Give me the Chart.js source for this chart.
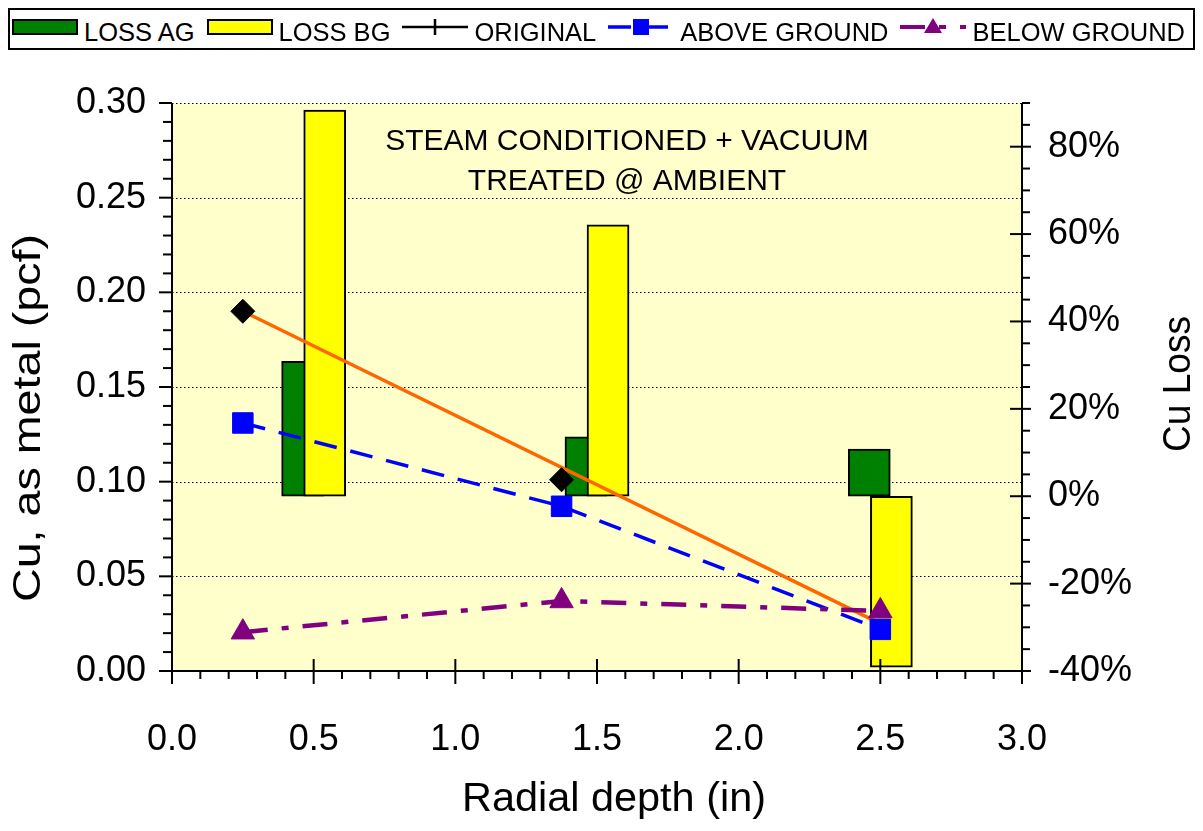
<!DOCTYPE html>
<html>
<head>
<meta charset="utf-8">
<title>Cu retention by radial depth</title>
<script src="https://cdn.jsdelivr.net/npm/chart.js@4.4.0/dist/chart.umd.min.js"></script>
<style>
  body { margin: 0; background: #fff; font-family: "Liberation Sans", Arial, sans-serif; }
  #wrap { position: relative; width: 1203px; height: 831px; }
  #legend {
    position: absolute; left: 8px; top: 8px; width: 1187px; height: 42px;
    box-sizing: border-box; border: 2px solid #000; background: #fff;
    display: flex; align-items: center; justify-content: space-between;
    padding: 0 8px 0 2px;
  }
  .item { display: flex; align-items: center; }
  .item canvas { margin-right: 6px; }
  .item span { font-size: 25.5px; line-height: 1; position: relative; top: 4px; color: #000; }
</style>
</head>
<body>
<div id="wrap">
  <canvas id="cuChart" width="1203" height="831"></canvas>
  <div id="legend"></div>
</div>
<script>
// ===== Data =====
const barDepths = [0.5, 1.5, 2.5];
const lossAg = [30.9, 13.6, 10.8];     // % Cu loss, above ground
const lossBg = [88.4, 62.1, -39.1];    // % Cu loss, below ground

const sampleDepths = [0.25, 1.375, 2.5];
const original = [0.190, 0.101, null];
const aboveGround = [0.131, 0.087, 0.022];
const belowGround = [0.0205, 0.037, 0.0317];

const trendDepths = [0.25, 2.5];
const trendValues = [0.190, 0.025];

const xTicks = [0, 0.5, 1, 1.5, 2, 2.5, 3];
const cuTicks = [0, 0.05, 0.10, 0.15, 0.20, 0.25, 0.30];
const lossTicks = [-40, -20, 0, 20, 40, 60, 80];

const titleLines = ["STEAM CONDITIONED + VACUUM", "TREATED @ AMBIENT"];

// bars of a pair sit either side of the depth
const barShift = 0.039;
const FONT = '"Liberation Sans", Arial, sans-serif';

const points = (xs, ys) => xs.map((x, i) => ({ x: x, y: ys[i] }));
const floating = (xs, ys, dx) => xs.map((x, i) => ({ x: x + dx, y: [0, ys[i]] }));

const datasets = [
  {
    type: "bar", label: "LOSS AG", yAxisID: "yR", order: 6,
    data: floating(barDepths, lossAg, -barShift),
    backgroundColor: "#008000", borderColor: "#000", borderWidth: 2,
    borderSkipped: false, barThickness: 42, grouped: false
  },
  {
    type: "bar", label: "LOSS BG", yAxisID: "yR", order: 5,
    data: floating(barDepths, lossBg, barShift),
    backgroundColor: "#FFFF00", borderColor: "#000", borderWidth: 2,
    borderSkipped: false, barThickness: 42, grouped: false
  },
  {
    type: "line", label: "ORIGINAL", yAxisID: "yL", order: 3,
    data: points(sampleDepths, original),
    showLine: false, borderColor: "#000", borderWidth: 2.5,
    pointStyle: "rectRot", pointRadius: 12, pointBackgroundColor: "#000",
    pointBorderColor: "#000", pointBorderWidth: 1
  },
  {
    type: "line", label: "ABOVE GROUND", yAxisID: "yL", order: 2,
    data: points(sampleDepths, aboveGround),
    borderColor: "#0000FF", borderWidth: 3.5, borderDash: [23, 14],
    pointStyle: "rect", pointRadius: 14.5, pointBackgroundColor: "#0000FF",
    pointBorderColor: "#0000FF", pointBorderWidth: 1
  },
  {
    type: "line", label: "BELOW GROUND", yAxisID: "yL", order: 1,
    data: points(sampleDepths, belowGround),
    borderColor: "#800080", borderWidth: 4.5, borderDash: [25, 14, 7, 14],
    pointStyle: "triangle", pointRadius: 13.5, pointBackgroundColor: "#800080",
    pointBorderColor: "#800080", pointBorderWidth: 1
  },
  {
    type: "line", label: "TREND", yAxisID: "yL", order: 4,
    data: points(trendDepths, trendValues),
    borderColor: "#FF6600", borderWidth: 3.5, pointRadius: 0
  }
];

// ===== Frame, ticks and titles =====
function seg(ctx, x1, y1, x2, y2) {
  ctx.beginPath(); ctx.moveTo(x1, y1); ctx.lineTo(x2, y2); ctx.stroke();
}

// text drawn at a given size, stretched along its run to a set length
function fitText(ctx, text, x, y, size, length, angle) {
  ctx.save();
  ctx.font = size + "px " + FONT;
  ctx.translate(x, y);
  ctx.rotate(angle);
  ctx.scale(length / ctx.measureText(text).width, 1);
  ctx.fillText(text, 0, 0);
  ctx.restore();
}

const framePlugin = {
  id: "frame",
  beforeDraw(chart) {
    const { ctx, chartArea: a } = chart;
    const yL = chart.scales.yL;
    ctx.save();
    ctx.fillStyle = "#FFFFCC";
    ctx.fillRect(a.left, a.top, a.right - a.left, a.bottom - a.top);
    ctx.strokeStyle = "#000";
    ctx.lineWidth = 1.2;
    ctx.setLineDash([1.5, 2.5]);
    cuTicks.forEach(v => {
      if (v === 0) return;
      const y = Math.round(yL.getPixelForValue(v)) + 0.5;
      seg(ctx, a.left, y, a.right, y);
    });
    ctx.restore();
  },
  afterDatasetsDraw(chart) {
    const { ctx, chartArea: a, scales } = chart;
    ctx.save();
    ctx.strokeStyle = "#000";
    ctx.lineWidth = 2;
    // axis lines
    seg(ctx, a.left, a.top, a.left, a.bottom + 13);
    seg(ctx, a.right, a.top, a.right, a.bottom + 13);
    seg(ctx, a.left, a.bottom, a.right, a.bottom);
    // left axis: major every 0.05, minor every 0.01
    for (let i = 0; i <= 30; i++) {
      const y = scales.yL.getPixelForValue(i / 100);
      seg(ctx, a.left - (i % 5 === 0 ? 13 : 9), y, a.left, y);
    }
    // right axis: major every 20 %, minor every 5 %
    for (let v = -40; v <= 90; v += 5) {
      const y = scales.yR.getPixelForValue(v);
      if (v % 20 === 0) seg(ctx, a.right - 12, y, a.right + 9, y);
      else seg(ctx, a.right, y, a.right + 8, y);
    }
    // bottom axis: major every 0.5, minor every 0.1
    for (let i = 0; i <= 30; i++) {
      const x = scales.x.getPixelForValue(i / 10);
      if (i % 5 === 0) seg(ctx, x, a.bottom - 12, x, a.bottom + 13);
      else seg(ctx, x, a.bottom, x, a.bottom + 8);
    }
    ctx.restore();
  },
  afterDraw(chart) {
    const { ctx } = chart;
    ctx.save();
    ctx.fillStyle = "#000";
    ctx.textAlign = "center";
    ctx.textBaseline = "middle";

    ctx.font = "30px " + FONT;
    titleLines.forEach((t, i) => ctx.fillText(t, 627, 142 + i * 40));

    fitText(ctx, "Radial depth (in)", 614, 800, 40, 304, 0);
    fitText(ctx, "Cu, as metal (pcf)", 30, 418, 38, 368, -Math.PI / 2);
    fitText(ctx, "Cu Loss", 1180, 384, 38, 136, -Math.PI / 2);
    ctx.restore();
  }
};

const tickFont = { family: FONT, size: 36 };

const chart = new Chart(document.getElementById("cuChart"), {
  data: { datasets: datasets },
  options: {
    responsive: false,
    animation: false,
    devicePixelRatio: 1,
    layout: { padding: { top: 103, left: 0, right: 0, bottom: 0 } },
    plugins: { legend: { display: false }, tooltip: { enabled: false } },
    scales: {
      x: {
        type: "linear", position: "bottom", min: 0, max: 3, offset: false,
        afterBuildTicks: s => { s.ticks = xTicks.map(v => ({ value: v })); },
        afterFit: s => { s.height = 160; },
        grid: { display: false, drawTicks: false, offset: false },
        border: { display: false },
        ticks: { font: tickFont, color: "#000", padding: 47, maxRotation: 0,
                  callback: v => v.toFixed(1) }
      },
      yL: {
        type: "linear", position: "left", min: 0, max: 0.3,
        afterBuildTicks: s => { s.ticks = cuTicks.map(v => ({ value: v })); },
        afterFit: s => { s.width = 172; },
        grid: { display: false, drawTicks: false },
        border: { display: false },
        ticks: { font: tickFont, color: "#000", padding: 26,
                 callback: v => v.toFixed(2) }
      },
      yR: {
        type: "linear", position: "right", min: -40, max: 90,
        afterBuildTicks: s => { s.ticks = lossTicks.map(v => ({ value: v })); },
        afterFit: s => { s.width = 181; },
        grid: { display: false, drawTicks: false },
        border: { display: false },
        ticks: { font: tickFont, color: "#000", padding: 26,
                 callback: v => v + "%" }
      }
    }
  },
  plugins: [framePlugin]
});

// ===== Legend =====
function legendIcon(ds) {
  const c = document.createElement("canvas");
  c.width = 66; c.height = 24;
  const g = c.getContext("2d");
  const cy = 10;
  if (ds.type === "bar") {
    g.fillStyle = ds.backgroundColor;
    g.fillRect(1, cy - 7, 64, 14);
    g.strokeStyle = "#000"; g.lineWidth = 2;
    g.strokeRect(1, cy - 7, 64, 14);
    return c;
  }
  g.strokeStyle = ds.borderColor;
  g.lineWidth = Math.min(ds.borderWidth, 4);
  g.setLineDash(ds.borderDash || []);
  seg(g, 0, cy, 66, cy);
  g.setLineDash([]);
  g.fillStyle = ds.pointBackgroundColor;
  if (ds.label === "ORIGINAL") {
    g.lineWidth = 2.5;
    seg(g, 33, cy - 8, 33, cy + 8);
  } else if (ds.pointStyle === "rect") {
    g.fillRect(25, cy - 8, 16, 16);
  } else if (ds.pointStyle === "triangle") {
    g.beginPath();
    g.moveTo(33, cy - 9); g.lineTo(42, cy + 6); g.lineTo(24, cy + 6);
    g.closePath(); g.fill();
  }
  return c;
}

const legendBox = document.getElementById("legend");
chart.data.datasets.filter(ds => ds.label !== "TREND").forEach(ds => {
  const item = document.createElement("div");
  item.className = "item";
  item.appendChild(legendIcon(ds));
  const text = document.createElement("span");
  text.textContent = ds.label;
  item.appendChild(text);
  legendBox.appendChild(item);
});
</script>
</body>
</html>
